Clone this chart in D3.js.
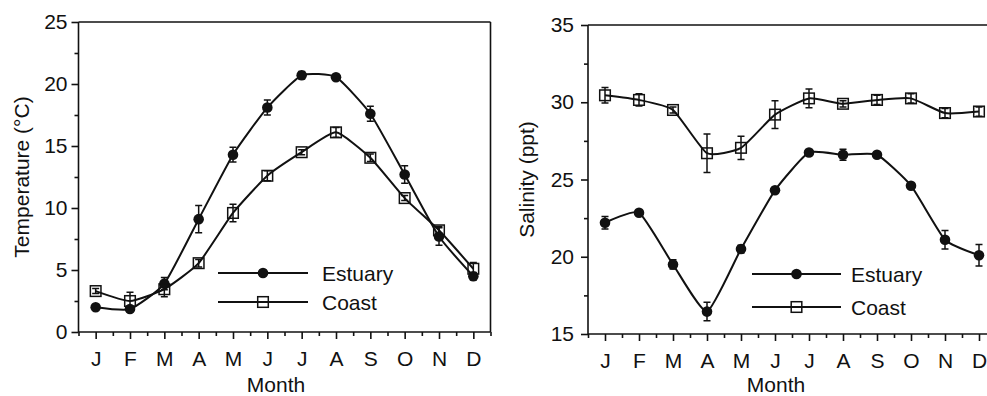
<!DOCTYPE html>
<html lang="en">
<head>
<meta charset="UTF-8">
<title>Temperature and salinity</title>
<style>
    body { margin: 0; background: #fff; }
    svg { display: block; }
    text { font-family: "Liberation Sans", Arial, Helvetica, sans-serif; fill: #111; }
    .axis path, .axis line { stroke: #111; stroke-width: 1.6; }
</style>
</head>
<body>
<svg width="987" height="396"></svg>
<script src="https://d3js.org/d3.v7.min.js"></script>
<script>
var months = ["J", "F", "M", "A", "M", "J", "J", "A", "S", "O", "N", "D"];

// temperature (°C)
var tempEstuary    = [2.0, 1.85, 3.9, 9.1, 14.3, 18.1, 20.7, 20.55, 17.6, 12.7, 7.7, 4.5];
var tempEstuaryErr = [0.15, 0.15, 0.5, 1.1, 0.6, 0.6, 0.3, 0.0, 0.6, 0.7, 0.7, 0.3];
var tempCoast      = [3.3, 2.5, 3.45, 5.55, 9.6, 12.6, 14.5, 16.1, 14.05, 10.8, 8.2, 5.1];
var tempCoastErr   = [0.2, 0.7, 0.6, 0.3, 0.7, 0.4, 0.2, 0.4, 0.3, 0.2, 0.3, 0.5];
var tempTicks = [0, 5, 10, 15, 20, 25];

// salinity (ppt)
var salEstuary    = [22.2, 22.85, 19.5, 16.45, 20.5, 24.3, 26.75, 26.6, 26.6, 24.6, 21.1, 20.1];
var salEstuaryErr = [0.4, 0.15, 0.3, 0.6, 0.25, 0.1, 0.1, 0.35, 0.0, 0.1, 0.6, 0.7];
var salCoast      = [30.45, 30.15, 29.5, 26.7, 27.05, 29.2, 30.25, 29.9, 30.15, 30.25, 29.3, 29.4];
var salCoastErr   = [0.5, 0.4, 0.2, 1.25, 0.75, 0.9, 0.6, 0.2, 0.3, 0.3, 0.3, 0.3];
var salTicks = [15, 20, 25, 30, 35];

var svg = d3.select("svg");
var FS = 21;

function panel(opt) {
    var g = svg.append("g");
    var x = d3.scaleLinear().domain([0.5, 12.5]).range(opt.xRange);
    var y = d3.scaleLinear().domain(opt.yDomain).range(opt.yRange);
    var x0 = opt.xRange[0], x1 = opt.xRange[1], y0 = opt.yRange[0], y1 = opt.yRange[1];

    // frame
    g.append("line").attr("x1", x0).attr("x2", x1).attr("y1", y1).attr("y2", y1)
        .attr("stroke", "#111").attr("stroke-width", 1.6);
    if (opt.rightBorder) {
        g.append("line").attr("x1", x1).attr("x2", x1).attr("y1", y1).attr("y2", y0)
            .attr("stroke", "#111").attr("stroke-width", 1.6);
    }

    // x axis: month ticks and half-month minor ticks
    g.append("g").attr("class", "axis")
        .attr("transform", "translate(0," + y0 + ")")
        .call(d3.axisBottom(x).tickValues(d3.range(1, 13)).tickSize(7).tickPadding(12)
            .tickFormat(function(d) { return months[d - 1]; }))
        .call(function(s) { s.select(".domain").attr("d", "M" + x0 + ",0H" + x1); });
    g.append("g").attr("class", "axis")
        .attr("transform", "translate(0," + y0 + ")")
        .call(d3.axisBottom(x).tickValues(d3.range(0.5, 13, 1)).tickSize(4).tickFormat(""))
        .call(function(s) { s.select(".domain").remove(); });

    // y axis
    var step = opt.yTicks[1] - opt.yTicks[0];
    g.append("g").attr("class", "axis")
        .attr("transform", "translate(" + x0 + ",0)")
        .call(d3.axisLeft(y).tickValues(opt.yTicks).tickSize(7).tickPadding(opt.yPad))
        .call(function(s) { s.select(".domain").attr("d", "M0," + y0 + "V" + y1); });
    g.append("g").attr("class", "axis")
        .attr("transform", "translate(" + x0 + ",0)")
        .call(d3.axisLeft(y).tickValues(opt.yTicks.slice(1).map(function(v) { return v - step / 2; }))
            .tickSize(4).tickFormat(""))
        .call(function(s) { s.select(".domain").remove(); });

    g.selectAll(".axis text").attr("font-size", FS).attr("font-family", null);

    // axis titles
    g.append("text")
        .attr("transform", "translate(" + opt.yTitleX + "," + ((y0 + y1) / 2) + ") rotate(-90)")
        .attr("text-anchor", "middle").attr("font-size", FS)
        .text(opt.yTitle);
    g.append("text")
        .attr("x", opt.xTitleX).attr("y", 392)
        .attr("text-anchor", "middle").attr("font-size", FS)
        .text("Month");

    var line = d3.line()
        .x(function(d, i) { return x(i + 1); })
        .y(function(d) { return y(d); })
        .curve(d3.curveCardinal.tension(0.5));

    opt.series.forEach(function(s) {
        g.append("path").datum(s.values)
            .attr("d", line).attr("fill", "none")
            .attr("stroke", "#111").attr("stroke-width", 2);
    });

    // error bars
    opt.series.forEach(function(s) {
        g.append("g").selectAll("path")
            .data(s.values.map(function(v, i) { return { i: i, v: v, e: s.err[i] }; })
                .filter(function(d) { return d.e > 0.12; }))
            .join("path")
            .attr("d", function(d) {
                var cx = x(d.i + 1), ta = y(d.v + d.e), tb = y(d.v - d.e);
                return "M" + cx + "," + ta + "V" + tb +
                    "M" + (cx - 3.5) + "," + ta + "H" + (cx + 3.5) +
                    "M" + (cx - 3.5) + "," + tb + "H" + (cx + 3.5);
            })
            .attr("fill", "none").attr("stroke", "#111").attr("stroke-width", 1.5);
    });

    function marker(sel, shape) {
        if (shape === "circle") {
            sel.append("circle").attr("r", 5.3).attr("fill", "#111");
        } else {
            sel.append("rect").attr("x", -5.3).attr("y", -5.3).attr("width", 10.6).attr("height", 10.6)
                .attr("fill", "none").attr("stroke", "#111").attr("stroke-width", 1.5);
        }
    }

    opt.series.forEach(function(s) {
        g.append("g").selectAll("g").data(s.values).join("g")
            .attr("transform", function(d, i) { return "translate(" + x(i + 1) + "," + y(d) + ")"; })
            .each(function() { marker(d3.select(this), s.shape); });
    });

    // legend
    opt.series.forEach(function(s, k) {
        var ly = opt.legend.y[k];
        g.append("line")
            .attr("x1", opt.legend.x1).attr("x2", opt.legend.x2)
            .attr("y1", ly).attr("y2", ly)
            .attr("stroke", "#111").attr("stroke-width", 2);
        marker(g.append("g").attr("transform",
            "translate(" + ((opt.legend.x1 + opt.legend.x2) / 2) + "," + ly + ")"), s.shape);
        g.append("text")
            .attr("x", opt.legend.tx).attr("y", ly).attr("dy", "0.36em")
            .attr("font-size", FS)
            .text(s.name);
    });
}

panel({
    xRange: [78.5, 490.5], yDomain: [0, 25], yRange: [332, 22],
    yTicks: tempTicks, yPad: 4, rightBorder: true,
    yTitle: "Temperature (°C)", yTitleX: 29, xTitleX: 276,
    series: [
        { name: "Estuary", values: tempEstuary, err: tempEstuaryErr, shape: "circle" },
        { name: "Coast", values: tempCoast, err: tempCoastErr, shape: "square" }
    ],
    legend: { x1: 218, x2: 308, tx: 322, y: [273, 302] }
});

panel({
    xRange: [588, 996], yDomain: [15, 35], yRange: [334, 25],
    yTicks: salTicks, yPad: 7, rightBorder: false,
    yTitle: "Salinity (ppt)", yTitleX: 534, xTitleX: 776,
    series: [
        { name: "Estuary", values: salEstuary, err: salEstuaryErr, shape: "circle" },
        { name: "Coast", values: salCoast, err: salCoastErr, shape: "square" }
    ],
    legend: { x1: 752, x2: 841, tx: 851, y: [274, 307] }
});
</script>
</body>
</html>
